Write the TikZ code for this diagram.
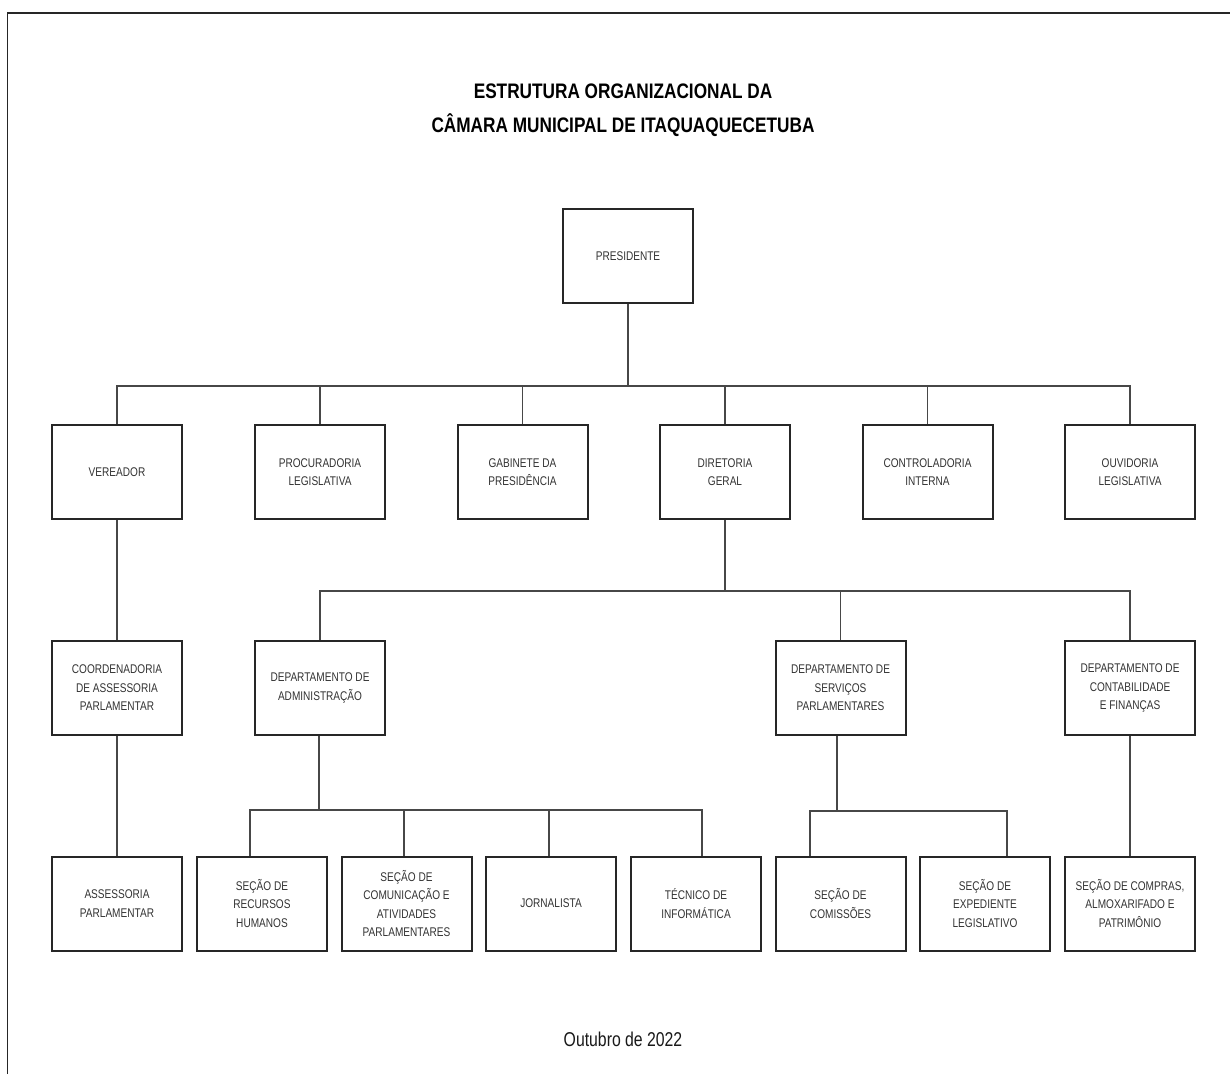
\documentclass[tikz,border=0pt]{standalone}
\usepackage{fontspec}
\setmainfont{Liberation Sans}
\newfontfamily\boxfont[FakeStretch=0.8]{Liberation Sans}
\newfontfamily\titlefont[FakeStretch=0.82]{Liberation Sans}
\newfontfamily\footfont[FakeStretch=0.79]{Liberation Sans}
\begin{document}
\begin{tikzpicture}[x=1pt,y=-1pt,
  orgbox/.style={draw=black!85, line width=2pt, minimum width=130pt, minimum height=94pt,
    inner sep=0pt, align=center, text=black!80,
    font=\boxfont\fontsize{12.6}{18.5}\selectfont},
  link/.style={draw=black!72, line width=1.5pt},
  titletext/.style={anchor=base, inner sep=0pt, text=black, font=\titlefont\bfseries\fontsize{21}{25}\selectfont},
  foottext/.style={anchor=base, inner sep=0pt, text=black!90, font=\footfont\fontsize{20}{24}\selectfont}]
\useasboundingbox (0,0) rectangle (1230,1074);
\fill[white] (0,0) rectangle (1230,1074);
% frame
\draw[line width=1.6pt, black!85] (7.5,1074) -- (7.5,13) -- (1230,13);
% title
\node[titletext] (t1) at (623,98) {ESTRUTURA ORGANIZACIONAL DA};
\node[titletext] (t2) at (623,132) {CÂMARA MUNICIPAL DE ITAQUAQUECETUBA};
% level 0
\node[orgbox] (pres) at (628,256) {PRESIDENTE};
% level 1
\node[orgbox] (ver)  at (117,472)   {VEREADOR};
\node[orgbox] (proc) at (320,472)   {PROCURADORIA\\LEGISLATIVA};
\node[orgbox] (gab)  at (522.5,472) {GABINETE DA\\PRESIDÊNCIA};
\node[orgbox] (dir)  at (725,472)   {DIRETORIA\\GERAL};
\node[orgbox] (ctrl) at (927.5,472) {CONTROLADORIA\\INTERNA};
\node[orgbox] (ouv)  at (1130,472)  {OUVIDORIA\\LEGISLATIVA};
% level 2
\node[orgbox] (coord) at (117,688)   {COORDENADORIA\\DE ASSESSORIA\\PARLAMENTAR};
\node[orgbox] (adm)   at (320,688)   {DEPARTAMENTO DE\\ADMINISTRAÇÃO};
\node[orgbox] (serv)  at (840.5,688) {DEPARTAMENTO DE\\SERVIÇOS\\PARLAMENTARES};
\node[orgbox] (cont)  at (1130,688)  {DEPARTAMENTO DE\\CONTABILIDADE\\E FINANÇAS};
% level 3
\node[orgbox] (ass)   at (117,903.5)   {ASSESSORIA\\PARLAMENTAR};
\node[orgbox] (rh)    at (262,903.5)   {SEÇÃO DE\\RECURSOS\\HUMANOS};
\node[orgbox] (com)   at (406.5,903.5) {SEÇÃO DE\\COMUNICAÇÃO E\\ATIVIDADES\\PARLAMENTARES};
\node[orgbox] (jor)   at (551,903.5)   {JORNALISTA};
\node[orgbox] (tec)   at (696,903.5)   {TÉCNICO DE\\INFORMÁTICA};
\node[orgbox] (comis) at (840.5,903.5) {SEÇÃO DE\\COMISSÕES};
\node[orgbox] (exp)   at (985,903.5)   {SEÇÃO DE\\EXPEDIENTE\\LEGISLATIVO};
\node[orgbox] (comp)  at (1130,903.5)  {SEÇÃO DE COMPRAS,\\ALMOXARIFADO E\\PATRIMÔNIO};
% footer
\node[foottext] (foot) at (623,1046) {Outubro de 2022};
% junction points
\coordinate (b1) at (628,386);
\coordinate (b2) at (725,591);
\coordinate (ba) at (319,810);
\coordinate (a1) at (250,810);
\coordinate (a2) at (404,810);
\coordinate (a3) at (549,810);
\coordinate (a4) at (702,810);
\coordinate (bs) at (837,811);
\coordinate (s1) at (810,811);
\coordinate (s2) at (1007,811);
% connectors level 0 -> 1
\draw[link] (pres.south) -- (b1);
\draw[link] (ver.north) -- (ver.north |- b1) -| (ouv.north);
\draw[link] (proc.north) -- (proc.north |- b1);
\draw[link] (gab.north) -- (gab.north |- b1);
\draw[link] (dir.north) -- (dir.north |- b1);
\draw[link] (ctrl.north) -- (ctrl.north |- b1);
% diretoria -> departments
\draw[link] (dir.south) -- (b2);
\draw[link] (adm.north) -- (adm.north |- b2) -| (cont.north);
\draw[link] (serv.north) -- (serv.north |- b2);
% vertical chains
\draw[link] (ver.south) -- (coord.north);
\draw[link] (coord.south) -- (ass.north);
\draw[link] (cont.south) -- (comp.north);
% administracao
\draw[link] (ba |- adm.south) -- (ba);
\draw[link] (a1 |- rh.north) -- (a1) -- (a4) -- (a4 |- tec.north);
\draw[link] (a2) -- (a2 |- com.north);
\draw[link] (a3) -- (a3 |- jor.north);
% servicos
\draw[link] (bs |- serv.south) -- (bs);
\draw[link] (s1 |- comis.north) -- (s1) -- (s2) -- (s2 |- exp.north);
\end{tikzpicture}
\end{document}
